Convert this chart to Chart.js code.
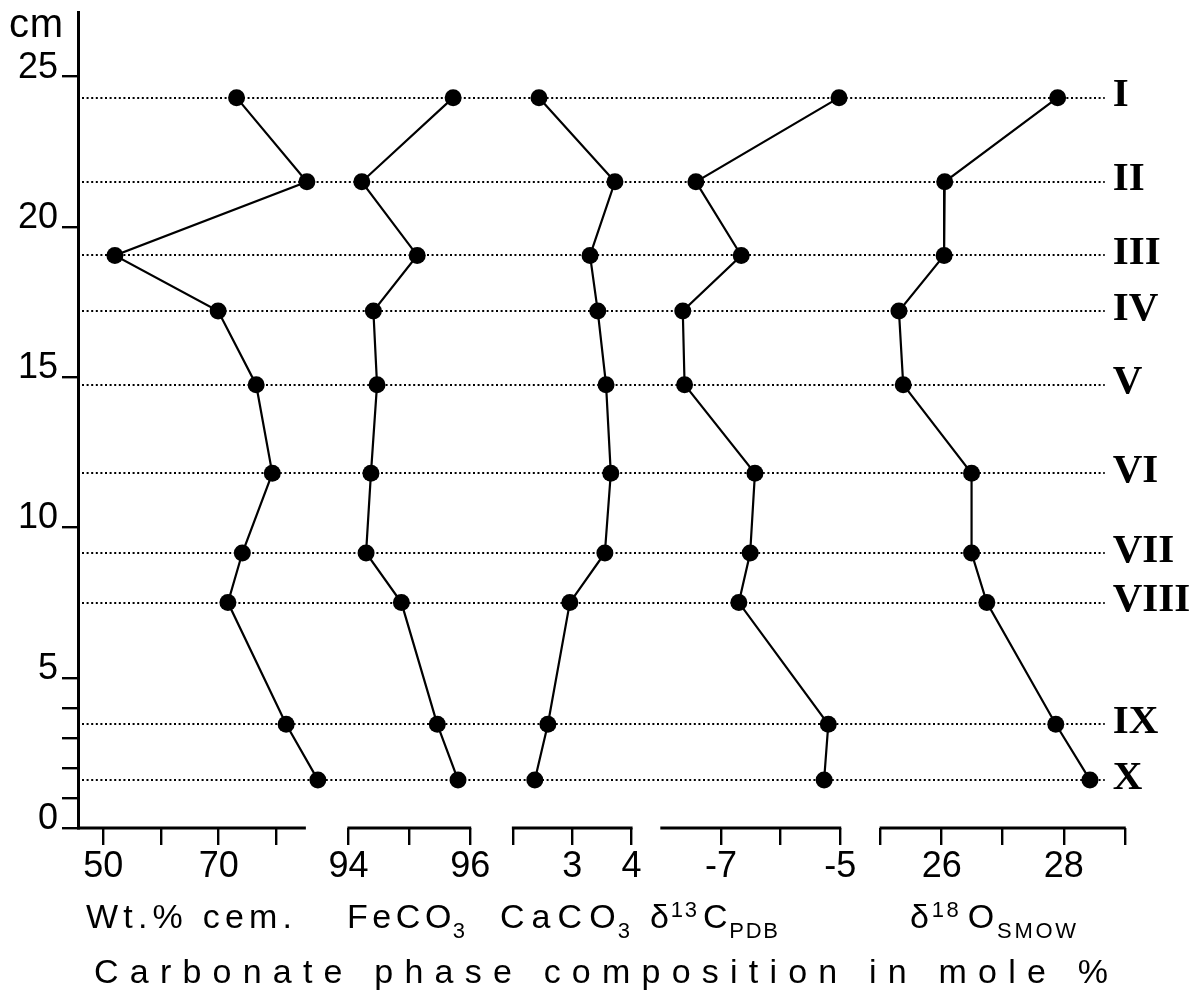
<!DOCTYPE html>
<html>
<head>
<meta charset="utf-8">
<script src="https://cdn.jsdelivr.net/npm/chart.js@4"></script>
<style>
  html, body { margin: 0; padding: 0; background: #fff; }
</style>
</head>
<body>
<canvas id="chart" width="1189" height="997"></canvas>
<script>
// sample horizons, top to bottom (depth in cm)
const samples = ['I', 'II', 'III', 'IV', 'V', 'VI', 'VII', 'VIII', 'IX', 'X'];
const depthCm = [24.3, 21.5, 19.05, 17.2, 14.75, 11.8, 9.15, 7.5, 3.45, 1.6];

// one value per horizon for each column
const wtCement = [73.1, 85.3, 52.0, 69.9, 76.5, 79.3, 74.1, 71.6, 81.7, 87.2];
const feco3 = [95.72, 94.22, 95.13, 94.41, 94.47, 94.37, 94.29, 94.87, 95.46, 95.80];
const caco3 = [2.44, 3.72, 3.30, 3.43, 3.57, 3.65, 3.55, 2.96, 2.59, 2.37];
const d13C = [-5.02, -7.42, -6.66, -7.64, -7.61, -6.43, -6.51, -6.70, -5.20, -5.27];
const d18O = [27.90, 26.05, 26.04, 25.30, 25.37, 26.49, 26.49, 26.74, 27.87, 28.43];

// ticks and which of them carry a label
const depthTicks = [0, 1, 2, 3, 4, 5, 10, 15, 20, 25];
const depthLabels = [0, 5, 10, 15, 20, 25];
const wtTicks = [50, 60, 70, 80];
const wtLabels = [50, 70];
const feTicks = [94, 95, 96];
const feLabels = [94, 96];
const caTicks = [2, 3, 4];
const caLabels = [3, 4];
const cTicks = [-7, -6, -5];
const cLabels = [-7, -5];
const oTicks = [25, 26, 27, 28, 29];
const oLabels = [26, 28];

const FONT = "'Liberation Sans', Arial, Helvetica, sans-serif";
const SERIF = "'Liberation Serif', 'Times New Roman', serif";

// the five columns share the depth axis, each with its own x scale side by side
const panels = [
  {id: 'x1', values: wtCement, ticks: wtTicks, labels: wtLabels, min: 45.6, max: 88.7, weight: 248.5, from: 45.6, to: 84.95},
  {id: 'x2', values: feco3, ticks: feTicks, labels: feLabels, min: 93.64, max: 96.35, weight: 165, from: 94, to: 96},
  {id: 'x3', values: caco3, ticks: caTicks, labels: caLabels, min: 1.64, max: 4.26, weight: 155.5, from: 2, to: 4},
  {id: 'x4', values: d13C, ticks: cTicks, labels: cLabels, min: -8.24, max: -4.66, weight: 213.5, from: -8, to: -5},
  {id: 'x5', values: d18O, ticks: oTicks, labels: oLabels, min: 24.67, max: 29.25, weight: 279.5, from: 25, to: 29}
];

const axisTitles = [
  {x: 86, w: 206, parts: [['Wt.% cem.', 'n']]},
  {x: 347, w: 118, parts: [['FeCO', 'n'], ['3', 'sub']]},
  {x: 500, w: 130, parts: [['CaCO', 'n'], ['3', 'sub']]},
  {x: 650, w: 128, parts: [['δ', 'n'], ['13', 'sup'], ['C', 'n'], ['PDB', 'sub']]},
  {x: 910, w: 166, parts: [['δ', 'n'], ['18', 'sup'], ['O', 'n'], ['SMOW', 'sub']]}
];

// text with extra letter spacing stretched to a given width; sub/sup glyphs sit tighter
function drawParts(ctx, parts, x, baseline, size, width) {
  const glyphs = [];
  parts.forEach(([text, kind]) => {
    const small = kind !== 'n';
    const s = small ? Math.round(size * 0.64) : size;
    const dy = kind === 'sub' ? size * 0.3 : kind === 'sup' ? -size * 0.32 : 0;
    ctx.font = s + 'px ' + FONT;
    for (const ch of text) {
      glyphs.push({ch, s, dy, w: ctx.measureText(ch).width, k: small ? 0.3 : 1});
    }
  });
  const natural = glyphs.reduce((a, g) => a + g.w, 0);
  const weights = glyphs.slice(1).reduce((a, g) => a + g.k, 0);
  const unit = weights > 0 ? (width - natural) / weights : 0;
  let cx = x;
  ctx.textAlign = 'left';
  ctx.textBaseline = 'alphabetic';
  glyphs.forEach((g, i) => {
    if (i > 0) cx += unit * g.k;
    ctx.font = g.s + 'px ' + FONT;
    ctx.fillText(g.ch, cx, baseline + g.dy);
    cx += g.w;
  });
}

const decor = {
  id: 'decor',
  beforeDatasetsDraw(chart) {
    const {ctx, chartArea, scales} = chart;
    const right = scales.x5.getPixelForValue(29) - 20;
    ctx.save();
    ctx.strokeStyle = '#000';
    ctx.lineWidth = 2;
    ctx.setLineDash([2, 2.6]);
    depthCm.forEach(d => {
      const py = Math.round(scales.y.getPixelForValue(d));
      ctx.beginPath();
      ctx.moveTo(chartArea.left + 4, py);
      ctx.lineTo(right, py);
      ctx.stroke();
    });
    ctx.restore();
  },
  afterDraw(chart) {
    const {ctx, chartArea, scales} = chart;
    ctx.save();
    ctx.fillStyle = '#000';
    ctx.strokeStyle = '#000';

    // axis line pieces under each column
    ctx.lineWidth = 3;
    panels.forEach(p => {
      const s = scales[p.id];
      ctx.beginPath();
      ctx.moveTo(s.getPixelForValue(p.from) - 1, chartArea.bottom);
      ctx.lineTo(s.getPixelForValue(p.to) + 1, chartArea.bottom);
      ctx.stroke();
    });

    // column titles and overall title
    axisTitles.forEach(t => drawParts(ctx, t.parts, t.x, chartArea.bottom + 100, 34, t.w));
    drawParts(ctx, [['Carbonate phase composition in mole %', 'n']], 94, chartArea.bottom + 155, 34, 1014);

    // unit of the depth axis
    drawParts(ctx, [['cm', 'n']], 9, chartArea.top + 25, 40, 54);

    // horizon numerals
    ctx.font = 'bold 41px ' + SERIF;
    ctx.textAlign = 'left';
    ctx.textBaseline = 'middle';
    const nx = scales.x5.getPixelForValue(29) - 12;
    samples.forEach((name, i) => {
      ctx.fillText(name, nx, scales.y.getPixelForValue(depthCm[i]) - 2);
    });
    ctx.restore();
  }
};

const scales = {
  y: {
    type: 'linear',
    position: 'left',
    min: 0,
    max: 27.15,
    afterBuildTicks: s => { s.ticks = depthTicks.map(v => ({value: v})); },
    afterFit: s => { s.width = 78; s.paddingTop = 0; s.paddingBottom = 0; },
    border: {display: true, color: '#000', width: 3},
    grid: {drawOnChartArea: false, drawTicks: true, tickLength: 16, color: '#000', lineWidth: 2.4},
    ticks: {
      padding: 4,
      labelOffset: -9,
      autoSkip: false,
      color: '#000',
      font: {family: FONT, size: 36},
      callback: v => depthLabels.includes(v) ? String(v) : ''
    }
  }
};

panels.forEach(p => {
  scales[p.id] = {
    type: 'linear',
    position: 'bottom',
    stack: 'columns',
    stackWeight: p.weight,
    min: p.min,
    max: p.max,
    afterBuildTicks: s => { s.ticks = p.ticks.map(v => ({value: v})); },
    afterFit: s => { s.height = 169; s.paddingLeft = 0; s.paddingRight = 0; },
    border: {display: false},
    grid: {drawOnChartArea: false, drawTicks: true, tickLength: 17, color: '#000', lineWidth: 2.4},
    ticks: {
      padding: 0,
      autoSkip: false,
      maxRotation: 0,
      color: '#000',
      font: {family: FONT, size: 36},
      callback: v => p.labels.includes(v) ? String(v) : ''
    }
  };
});

new Chart(document.getElementById('chart'), {
  type: 'scatter',
  data: {
    datasets: panels.map(p => ({
      xAxisID: p.id,
      data: p.values.map((v, i) => ({x: v, y: depthCm[i]})),
      showLine: true,
      borderColor: '#000',
      borderWidth: 2.2,
      pointRadius: 8.5,
      pointBackgroundColor: '#000',
      pointBorderWidth: 0,
      clip: false
    }))
  },
  options: {
    responsive: false,
    animation: false,
    events: [],
    layout: {padding: {left: 0, right: 49, top: 12, bottom: 0}},
    plugins: {legend: {display: false}, tooltip: {enabled: false}},
    scales
  },
  plugins: [decor]
});
</script>
</body>
</html>
